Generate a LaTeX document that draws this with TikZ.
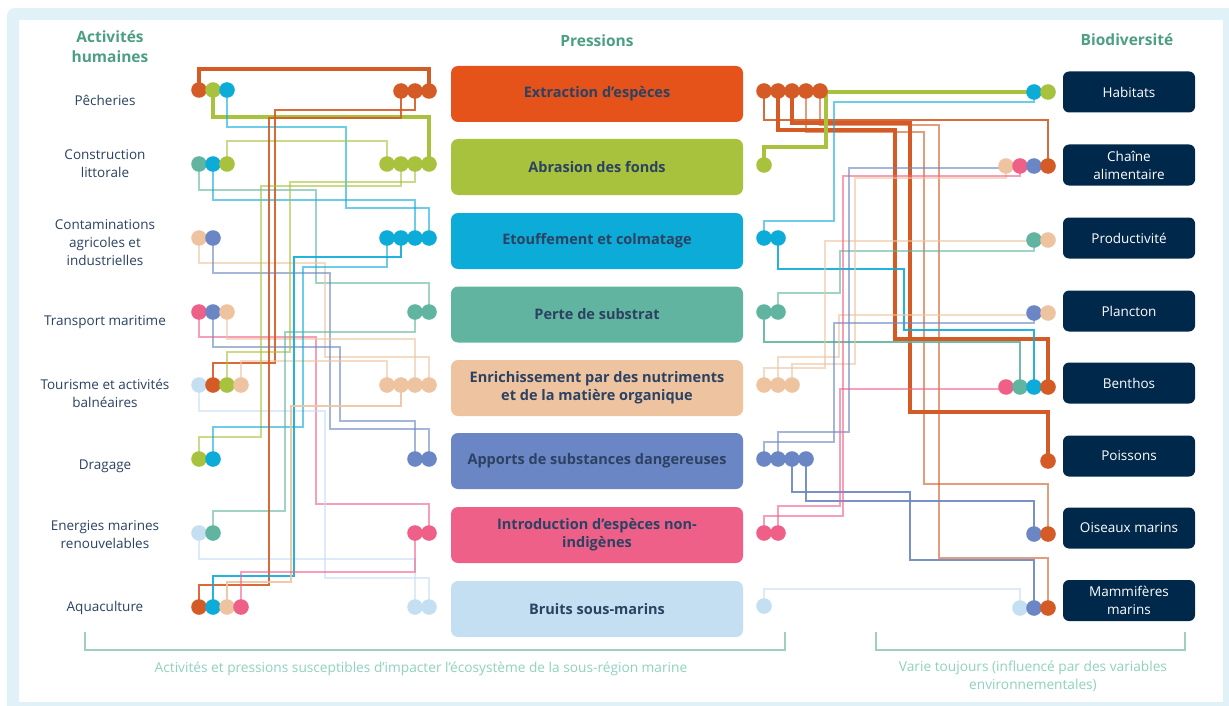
\documentclass[tikz,border=0pt]{standalone}
\usepackage{fontspec}
\setmainfont{Open Sans}

\definecolor{orgC}{HTML}{D45A26}
\definecolor{orgBox}{HTML}{E5521A}
\definecolor{grnC}{HTML}{A8C23D}
\definecolor{bluC}{HTML}{0DABD8}
\definecolor{tealC}{HTML}{61B5A0}
\definecolor{pchC}{HTML}{EEC4A0}
\definecolor{vioC}{HTML}{6B86C4}
\definecolor{pnkC}{HTML}{EF6089}
\definecolor{lbC}{HTML}{C5DFF2}
\definecolor{navyC}{HTML}{00284B}
\definecolor{txtC}{HTML}{2B4262}
\definecolor{headC}{HTML}{4C9E84}
\definecolor{noteC}{HTML}{8ED2BE}
\definecolor{frameC}{HTML}{E0F1F8}
\definecolor{brkC}{HTML}{9ECFC2}

\tikzset{
  lk1/.style={line width=1.5pt, opacity=.6},
  lk2/.style={line width=2.4pt, opacity=.9},
  lk3/.style={line width=3.8pt},
  pbox/.style={rounded corners=7pt, minimum width=292pt, minimum height=56pt, inner sep=0pt,
    text=txtC, font=\fontsize{14.5}{18}\selectfont\bfseries, align=center},
  bbox/.style={fill=navyC, rounded corners=6pt, minimum width=132pt, minimum height=41pt, inner sep=0pt,
    text=white, font=\fontsize{13.5}{18}\selectfont, align=center},
  act/.style={text=txtC, font=\fontsize{13.5}{18}\selectfont, align=center},
  head/.style={text=headC, font=\fontsize{15.5}{20}\selectfont\bfseries, align=center},
  note/.style={text=noteC, font=\fontsize{13.7}{18}\selectfont, align=center},
  brk/.style={brkC, line width=1.4pt}
}

\begin{document}
\begin{tikzpicture}[x=1pt, y=-1pt]
	%%%%% FRAME %%%%%
	\useasboundingbox (0,0) rectangle (1229,706);
	\fill[frameC, rounded corners=8pt] (7,8) rectangle (1240,720);
	\fill[white] (19,20) rectangle (1223,702);
	
	%%%%% HEADERS %%%%%
	\node[head] (hact) at (110,47) {Activités\\humaines};
	\node[head] (hpre) at (597,41) {Pressions};
	\node[head] (hbio) at (1127,40) {Biodiversité};
	
	%%%%% ACTIVITIES %%%%%
	\node[act] (pech) at (105,100) {Pêcheries};
	\node[act] (cons) at (105,164) {Construction\\littorale};
	\node[act] (cont) at (105,243) {Contaminations\\agricoles et\\industrielles};
	\node[act] (tran) at (105,322) {Transport maritime};
	\node[act] (tour) at (105,393) {Tourisme et activités\\balnéaires};
	\node[act] (drag) at (105,466) {Dragage};
	\node[act] (ener) at (105,535) {Energies marines\\renouvelables};
	\node[act] (aqua) at (105,608) {Aquaculture};
	
	%%%%% PRESSURES %%%%%
	\node[pbox, fill=orgBox] (extr) at (597,94) {Extraction d’espèces};
	\node[pbox, fill=grnC] (abra) at (597,167) {Abrasion des fonds};
	\node[pbox, fill=bluC] (etou) at (597,241) {Etouffement et colmatage};
	\node[pbox, fill=tealC] (pert) at (597,314.5) {Perte de substrat};
	\node[pbox, fill=pchC] (enri) at (597,388) {Enrichissement par des nutriments\\et de la matière organique};
	\node[pbox, fill=vioC] (appo) at (597,461) {Apports de substances dangereuses};
	\node[pbox, fill=pnkC] (intr) at (597,535) {Introduction d’espèces non-\\indigènes};
	\node[pbox, fill=lbC] (brui) at (597,609) {Bruits sous-marins};
	
	%%%%% BIODIVERSITY %%%%%
	\node[bbox] (habi) at (1129,92) {Habitats};
	\node[bbox] (chai) at (1129,165) {Chaîne\\alimentaire};
	\node[bbox] (prod) at (1129,238) {Productivité};
	\node[bbox] (plan) at (1129,311) {Plancton};
	\node[bbox] (bent) at (1129,383) {Benthos};
	\node[bbox] (pois) at (1129,456) {Poissons};
	\node[bbox] (oise) at (1129,528) {Oiseaux marins};
	\node[bbox] (mamm) at (1129,600.5) {Mammifères\\marins};
	
	%%%%% DOTS (positions) %%%%%
	% activities
	\coordinate (pecO) at (199,90); \coordinate (pecG) at (213,90); \coordinate (pecB) at (227,90);
	\coordinate (conT) at (199,164); \coordinate (conB) at (213,164); \coordinate (conG) at (227,164);
	\coordinate (ctaP) at (199,238); \coordinate (ctaV) at (213,238);
	\coordinate (traK) at (199,312); \coordinate (traV) at (213,312); \coordinate (traP) at (227,312);
	\coordinate (touL) at (199,385); \coordinate (touO) at (213,385); \coordinate (touG) at (227,385); \coordinate (touP) at (241,385);
	\coordinate (draG) at (199,459); \coordinate (draB) at (213,459);
	\coordinate (eneL) at (199,533); \coordinate (eneT) at (213,533);
	\coordinate (aquO) at (199,607); \coordinate (aquB) at (213,607); \coordinate (aquP) at (227,607); \coordinate (aquK) at (241,607);
	% pressures, left side
	\coordinate (exL1) at (401,91); \coordinate (exL2) at (415,91); \coordinate (exL3) at (429,91);
	\coordinate (abL1) at (387,164); \coordinate (abL2) at (401,164); \coordinate (abL3) at (415,164); \coordinate (abL4) at (429,164);
	\coordinate (etL1) at (387,238); \coordinate (etL2) at (401,238); \coordinate (etL3) at (415,238); \coordinate (etL4) at (429,238);
	\coordinate (peL1) at (415,312); \coordinate (peL2) at (429,312);
	\coordinate (enL1) at (387,385); \coordinate (enL2) at (401,385); \coordinate (enL3) at (415,385); \coordinate (enL4) at (429,385);
	\coordinate (apL1) at (415,459); \coordinate (apL2) at (429,459);
	\coordinate (inL1) at (415,533); \coordinate (inL2) at (429,533);
	\coordinate (brL1) at (415,607); \coordinate (brL2) at (429,607);
	% pressures, right side
	\coordinate (exR1) at (764,91); \coordinate (exR2) at (778,91); \coordinate (exR3) at (792,91); \coordinate (exR4) at (806,91); \coordinate (exR5) at (820,91);
	\coordinate (abR1) at (764,165);
	\coordinate (etR1) at (764,238); \coordinate (etR2) at (778,238);
	\coordinate (peR1) at (764,312); \coordinate (peR2) at (778,312);
	\coordinate (enR1) at (764,385); \coordinate (enR2) at (778,385); \coordinate (enR3) at (792,385);
	\coordinate (apR1) at (764,459); \coordinate (apR2) at (778,459); \coordinate (apR3) at (792,459); \coordinate (apR4) at (806,459);
	\coordinate (inR1) at (764,533); \coordinate (inR2) at (778,533);
	\coordinate (brR1) at (764,606);
	% biodiversity
	\coordinate (habB) at (1034,92); \coordinate (habG) at (1048,92);
	\coordinate (chaP) at (1006,166); \coordinate (chaK) at (1020,166); \coordinate (chaV) at (1034,166); \coordinate (chaO) at (1048,166);
	\coordinate (proT) at (1034,240); \coordinate (proP) at (1048,240);
	\coordinate (plaV) at (1034,313); \coordinate (plaP) at (1048,313);
	\coordinate (benK) at (1006,387); \coordinate (benT) at (1020,387); \coordinate (benB) at (1034,387); \coordinate (benO) at (1048,387);
	\coordinate (poiO) at (1048,461);
	\coordinate (oisV) at (1034,534); \coordinate (oisO) at (1048,534);
	\coordinate (mamL) at (1020,608); \coordinate (mamV) at (1034,608); \coordinate (mamO) at (1048,608);
	
	%%%%% ACTIVITIES -> PRESSURES %%%%%
	\draw[lk3, orgC] (pecO) |- (429,69) -- (exL3);
	\draw[lk3, grnC, line width=3.4pt] (pecG) |- (429,117) -- (abL4);
	\draw[lk1, bluC] (pecB) |- (346,127) -- (346,208) -| (etL4);
	\draw[lk1, tealC] (conT) |- (316,190) -- (316,283) -| (peL2);
	\draw[lk1, bluC] (conB) |- (415,200) -- (etL3);
	\draw[lk1, grnC] (conG) |- (387,141) -- (abL1);
	\draw[lk1, pchC] (ctaP) |- (325,263) -- (325,357) -| (enL4);
	\draw[lk1, vioC] (ctaV) |- (330,273) -- (330,429) -| (apL2);
	\draw[lk1, pnkC] (traK) |- (316,337) -- (316,504) -| (inL2);
	\draw[lk1, vioC] (traV) |- (340,347) -- (340,421) -| (apL1);
	\draw[lk1, pchC] (traP) |- (415,339) -- (enL3);
	\draw[lk1, lbC] (touL) |- (325,411) -- (325,578) -| (brL2);
	\draw[lk2, orgC, line width=2pt] (touO) |- (275,363) -- (275,110) -| (exL2);
	\draw[lk1, grnC] (touG) |- (290,352) -- (290,182) -| (abL3);
	\draw[lk1, pchC] (touP) |- (387,361) -- (enL1);
	\draw[lk1, grnC] (draG) |- (261,437) -- (261,186) -| (abL2);
	\draw[lk1, bluC] (draB) |- (303,427) -- (303,267) -| (etL1);
	\draw[lk1, lbC] (eneL) |- (415,559) -- (brL1);
	\draw[lk1, tealC] (eneT) |- (285,511) -- (285,332) -| (peL1);
	\draw[lk2, orgC] (aquO) |- (269,585) -- (269,118) -| (exL1);
	\draw[lk2, bluC, line width=1.9pt] (aquB) |- (294,576) -- (294,257) -| (etL2);
	\draw[lk2, pchC] (aquP) |- (291,582) -- (291,406) -| (enL2);
	\draw[lk1, pnkC] (aquK) |- (415,572) -- (inL1);
	
	%%%%% PRESSURES -> BIODIVERSITY %%%%%
	\draw[lk2, orgC] (exR1) |- (1048,120) -- (chaO);
	\draw[lk3, orgC, line width=3.4pt] (exR2) |- (895,130) -- (895,339) -| (benO);
	\draw[lk3, orgC] (exR3) |- (910,123) -- (910,412) -| (poiO);
	\draw[lk1, orgC] (exR4) |- (924,132) -- (924,484) -| (oisO);
	\draw[lk1, orgC] (exR5) |- (939,125) -- (939,558) -| (mamO);
	\draw[lk3, grnC] (abR1) |- (826,147) -- (826,92) -| (habG);
	\draw[lk1, bluC] (etR1) |- (834,221) -- (834,102) -| (habB);
	\draw[lk2, bluC] (etR2) |- (904,269) -- (904,330) -| (benB);
	\draw[lk2, tealC] (peR1) |- (1020,342) -- (benT);
	\draw[lk1, tealC] (peR2) |- (840,293) -- (840,251) -| (proT);
	\draw[lk1, pchC] (enR1) |- (825,368) -- (825,241) -| (proP);
	\draw[lk1, pchC] (enR2) |- (839,357) -- (839,315) -| (plaP);
	\draw[lk1, pchC] (enR3) |- (855,364) -- (855,178) -| (chaP);
	\draw[lk1, vioC] (apR1) |- (834,442) -- (834,323) -| (plaV);
	\draw[lk1, vioC] (apR2) |- (849,432) -- (849,168) -| (chaV);
	\draw[lk2, vioC, line width=2.8pt] (apR3) |- (910,492) -- (910,560) -| (mamV);
	\draw[lk2, vioC, line width=2.8pt] (apR4) |- (1034,501) -- (oisV);
	\draw[lk1, pnkC] (inR1) |- (843,516) -- (843,176) -| (chaK);
	\draw[lk1, pnkC] (inR2) |- (840,506) -- (840,389) -| (benK);
	\draw[lk1, lbC] (brR1) |- (1020,589) -- (mamL);
	
	%%%%% DOTS %%%%%
	\foreach \d/\c in {pecO/orgC, pecG/grnC, pecB/bluC, conT/tealC, conB/bluC, conG/grnC,
		ctaP/pchC, ctaV/vioC, traK/pnkC, traV/vioC, traP/pchC,
		touL/lbC, touO/orgC, touG/grnC, touP/pchC, draG/grnC, draB/bluC,
		eneL/lbC, eneT/tealC, aquO/orgC, aquB/bluC, aquP/pchC, aquK/pnkC,
		exL1/orgC, exL2/orgC, exL3/orgC, abL1/grnC, abL2/grnC, abL3/grnC, abL4/grnC,
		etL1/bluC, etL2/bluC, etL3/bluC, etL4/bluC, peL1/tealC, peL2/tealC,
		enL1/pchC, enL2/pchC, enL3/pchC, enL4/pchC, apL1/vioC, apL2/vioC,
		inL1/pnkC, inL2/pnkC, brL1/lbC, brL2/lbC,
		exR1/orgC, exR2/orgC, exR3/orgC, exR4/orgC, exR5/orgC, abR1/grnC,
		etR1/bluC, etR2/bluC, peR1/tealC, peR2/tealC, enR1/pchC, enR2/pchC, enR3/pchC,
		apR1/vioC, apR2/vioC, apR3/vioC, apR4/vioC, inR1/pnkC, inR2/pnkC, brR1/lbC,
		habB/bluC, habG/grnC, chaP/pchC, chaK/pnkC, chaV/vioC, chaO/orgC,
		proT/tealC, proP/pchC, plaV/vioC, plaP/pchC,
		benK/pnkC, benT/tealC, benB/bluC, benO/orgC, poiO/orgC,
		oisV/vioC, oisO/orgC, mamL/lbC, mamV/vioC, mamO/orgC}
		\fill[\c] (\d) circle[radius=7.8];
	
	%%%%% BRACKETS %%%%%
	\draw[brk] (85,632) -- (85,650) -- (785,650) -- (785,632);
	\draw[brk] (876,632) -- (876,650) -- (1185,650) -- (1185,632);
	\node[note] (nleft) at (421,669) {Activités et pressions susceptibles d’impacter l’écosystème de la sous-région marine};
	\node[note] (nright) at (1033,676) {Varie toujours (influencé par des variables\\environnementales)};
\end{tikzpicture}
\end{document}
